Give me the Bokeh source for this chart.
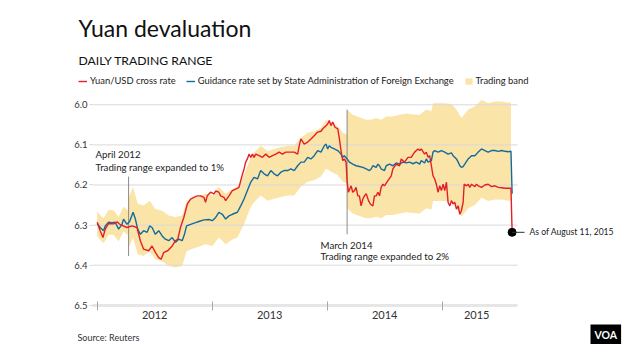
from bokeh.plotting import figure
from bokeh.models import (Range1d, FixedTicker, LinearAxis, Label, Legend, LegendItem,
                          Arrow, NumeralTickFormatter, ColumnDataSource)
from bokeh.embed import file_html
from bokeh.resources import INLINE

# ---------------- data (decimal years, CNY per USD) ----------------
red_t = [2012.000, 2012.026, 2012.050, 2012.070, 2012.099, 2012.143, 2012.175, 2012.201, 2012.259, 2012.303,
         2012.346, 2012.375, 2012.404, 2012.448, 2012.477, 2012.506, 2012.535, 2012.556, 2012.579, 2012.613,
         2012.652, 2012.681, 2012.701, 2012.724, 2012.753, 2012.783, 2012.812, 2012.840, 2012.870, 2012.899,
         2012.928, 2012.942, 2012.957, 2012.986, 2013.015, 2013.030, 2013.058, 2013.073, 2013.102, 2013.117,
         2013.146, 2013.175, 2013.204, 2013.233, 2013.248, 2013.263, 2013.277, 2013.291, 2013.306, 2013.320,
         2013.335, 2013.350, 2013.364, 2013.379, 2013.408, 2013.437, 2013.466, 2013.495, 2013.524, 2013.553,
         2013.582, 2013.611, 2013.640, 2013.669, 2013.713, 2013.743, 2013.757, 2013.771, 2013.800, 2013.830,
         2013.859, 2013.887, 2013.917, 2013.946, 2013.961, 2013.990, 2014.004, 2014.018, 2014.033, 2014.048,
         2014.068, 2014.092, 2014.106, 2014.120, 2014.135, 2014.149, 2014.164, 2014.173, 2014.184, 2014.208,
         2014.222, 2014.237, 2014.251, 2014.266, 2014.280, 2014.295, 2014.310, 2014.324, 2014.339, 2014.359,
         2014.376, 2014.397, 2014.411, 2014.426, 2014.441, 2014.455, 2014.469, 2014.484, 2014.498, 2014.528,
         2014.557, 2014.571, 2014.600, 2014.629, 2014.644, 2014.673, 2014.702, 2014.731, 2014.760, 2014.790,
         2014.804, 2014.818, 2014.847, 2014.862, 2014.877, 2014.891, 2014.906, 2014.920, 2014.935, 2014.949,
         2014.964, 2014.978, 2014.993, 2015.008, 2015.022, 2015.037, 2015.051, 2015.066, 2015.080, 2015.095,
         2015.109, 2015.124, 2015.139, 2015.153, 2015.167, 2015.182, 2015.191, 2015.211, 2015.226, 2015.240,
         2015.255, 2015.284, 2015.298, 2015.313, 2015.342, 2015.371, 2015.400, 2015.429, 2015.458, 2015.488,
         2015.517, 2015.546, 2015.575, 2015.598, 2015.608]
red_v = [6.293, 6.314, 6.331, 6.310, 6.296, 6.297, 6.292, 6.299, 6.306, 6.302,
         6.306, 6.339, 6.360, 6.364, 6.352, 6.368, 6.381, 6.385, 6.368, 6.364,
         6.352, 6.339, 6.335, 6.306, 6.281, 6.248, 6.235, 6.231, 6.227, 6.227,
         6.231, 6.243, 6.227, 6.218, 6.222, 6.215, 6.218, 6.227, 6.231, 6.239,
         6.227, 6.214, 6.210, 6.206, 6.189, 6.173, 6.160, 6.143, 6.135, 6.123,
         6.131, 6.123, 6.131, 6.123, 6.127, 6.131, 6.123, 6.131, 6.127, 6.123,
         6.118, 6.123, 6.118, 6.118, 6.118, 6.123, 6.102, 6.085, 6.098, 6.093,
         6.085, 6.077, 6.068, 6.066, 6.060, 6.052, 6.048, 6.039, 6.052, 6.043,
         6.056, 6.060, 6.085, 6.114, 6.139, 6.135, 6.143, 6.189, 6.218, 6.202,
         6.218, 6.214, 6.206, 6.227, 6.227, 6.252, 6.235, 6.227, 6.222, 6.239,
         6.248, 6.252, 6.227, 6.227, 6.218, 6.227, 6.206, 6.198, 6.202, 6.189,
         6.177, 6.160, 6.148, 6.152, 6.135, 6.143, 6.131, 6.131, 6.118, 6.110,
         6.114, 6.110, 6.123, 6.118, 6.131, 6.127, 6.152, 6.177, 6.185, 6.198,
         6.218, 6.202, 6.214, 6.198, 6.214, 6.193, 6.243, 6.252, 6.239, 6.247,
         6.243, 6.260, 6.252, 6.273, 6.264, 6.243, 6.198, 6.202, 6.198, 6.206,
         6.198, 6.204, 6.198, 6.202, 6.206, 6.200, 6.198, 6.204, 6.202, 6.206,
         6.207, 6.208, 6.208, 6.208, 6.318]

blue_t = [2012.000, 2012.026, 2012.055, 2012.070, 2012.099, 2012.128, 2012.157, 2012.186, 2012.216, 2012.229,
          2012.259, 2012.282, 2012.312, 2012.332, 2012.352, 2012.375, 2012.404, 2012.434, 2012.456, 2012.477,
          2012.506, 2012.535, 2012.565, 2012.593, 2012.622, 2012.652, 2012.681, 2012.709, 2012.739, 2012.759,
          2012.777, 2012.812, 2012.855, 2012.884, 2012.928, 2012.972, 2013.001, 2013.030, 2013.058, 2013.088,
          2013.117, 2013.146, 2013.175, 2013.219, 2013.248, 2013.277, 2013.306, 2013.335, 2013.364, 2013.394,
          2013.422, 2013.451, 2013.481, 2013.510, 2013.538, 2013.568, 2013.597, 2013.626, 2013.655, 2013.684,
          2013.713, 2013.743, 2013.771, 2013.800, 2013.830, 2013.859, 2013.887, 2013.917, 2013.946, 2013.975,
          2013.990, 2014.004, 2014.018, 2014.033, 2014.062, 2014.092, 2014.120, 2014.135, 2014.149, 2014.173,
          2014.193, 2014.222, 2014.251, 2014.280, 2014.310, 2014.339, 2014.367, 2014.382, 2014.397, 2014.426,
          2014.441, 2014.455, 2014.469, 2014.498, 2014.513, 2014.542, 2014.571, 2014.600, 2014.629, 2014.659,
          2014.688, 2014.716, 2014.746, 2014.775, 2014.804, 2014.818, 2014.847, 2014.862, 2014.877, 2014.906,
          2014.920, 2014.935, 2014.964, 2014.993, 2015.022, 2015.051, 2015.080, 2015.095, 2015.124, 2015.139,
          2015.153, 2015.167, 2015.182, 2015.196, 2015.226, 2015.255, 2015.284, 2015.313, 2015.342, 2015.371,
          2015.400, 2015.429, 2015.458, 2015.488, 2015.517, 2015.546, 2015.575, 2015.598, 2015.608]
blue_v = [6.296, 6.306, 6.314, 6.302, 6.293, 6.294, 6.293, 6.310, 6.298, 6.285,
          6.298, 6.291, 6.268, 6.285, 6.310, 6.323, 6.314, 6.318, 6.302, 6.306,
          6.323, 6.314, 6.327, 6.335, 6.339, 6.331, 6.343, 6.335, 6.339, 6.323,
          6.302, 6.298, 6.294, 6.291, 6.287, 6.286, 6.289, 6.281, 6.268, 6.273,
          6.285, 6.277, 6.273, 6.268, 6.252, 6.235, 6.214, 6.193, 6.181, 6.185,
          6.164, 6.172, 6.177, 6.164, 6.172, 6.177, 6.168, 6.164, 6.164, 6.160,
          6.164, 6.152, 6.143, 6.143, 6.131, 6.135, 6.127, 6.114, 6.118, 6.102,
          6.098, 6.110, 6.102, 6.106, 6.110, 6.114, 6.123, 6.131, 6.127, 6.135,
          6.143, 6.148, 6.152, 6.154, 6.156, 6.160, 6.164, 6.160, 6.152, 6.156,
          6.148, 6.152, 6.160, 6.164, 6.152, 6.148, 6.152, 6.145, 6.148, 6.143,
          6.145, 6.143, 6.147, 6.143, 6.148, 6.139, 6.145, 6.135, 6.143, 6.139,
          6.118, 6.114, 6.118, 6.114, 6.118, 6.123, 6.120, 6.127, 6.135, 6.143,
          6.152, 6.156, 6.154, 6.148, 6.135, 6.127, 6.127, 6.118, 6.110, 6.114,
          6.118, 6.114, 6.114, 6.116, 6.114, 6.116, 6.117, 6.116, 6.222]

band_t = [2012.000, 2012.026, 2012.055, 2012.099, 2012.143, 2012.186, 2012.229, 2012.270, 2012.271, 2012.312,
          2012.352, 2012.404, 2012.456, 2012.506, 2012.565, 2012.622, 2012.681, 2012.739, 2012.777, 2012.829,
          2012.884, 2012.942, 2013.001, 2013.058, 2013.117, 2013.175, 2013.219, 2013.248, 2013.277, 2013.306,
          2013.335, 2013.364, 2013.422, 2013.481, 2013.538, 2013.597, 2013.655, 2013.713, 2013.771, 2013.830,
          2013.887, 2013.946, 2013.990, 2014.033, 2014.092, 2014.135, 2014.172, 2014.173, 2014.222, 2014.280,
          2014.339, 2014.382, 2014.426, 2014.469, 2014.513, 2014.571, 2014.629, 2014.688, 2014.746, 2014.804,
          2014.862, 2014.906, 2014.920, 2014.964, 2015.022, 2015.080, 2015.124, 2015.167, 2015.226, 2015.284,
          2015.342, 2015.400, 2015.458, 2015.517, 2015.575, 2015.598]
band_top = [6.265, 6.275, 6.283, 6.262, 6.263, 6.279, 6.254, 6.264, 6.232, 6.205,
            6.247, 6.251, 6.239, 6.260, 6.264, 6.276, 6.280, 6.276, 6.239, 6.233,
            6.228, 6.222, 6.226, 6.205, 6.222, 6.210, 6.205, 6.190, 6.173, 6.152,
            6.131, 6.119, 6.102, 6.115, 6.110, 6.106, 6.102, 6.102, 6.082, 6.070,
            6.066, 6.057, 6.037, 6.045, 6.053, 6.070, 6.074, 6.012, 6.025, 6.031,
            6.037, 6.037, 6.033, 6.037, 6.029, 6.029, 6.025, 6.022, 6.024, 6.025,
            6.012, 6.016, 5.996, 5.996, 5.996, 5.998, 6.012, 6.033, 6.012, 6.004,
            5.988, 5.996, 5.992, 5.992, 5.995, 5.994]
band_bot = [6.327, 6.337, 6.345, 6.324, 6.325, 6.341, 6.316, 6.326, 6.358, 6.331,
            6.373, 6.377, 6.365, 6.386, 6.390, 6.402, 6.406, 6.402, 6.365, 6.359,
            6.354, 6.348, 6.352, 6.331, 6.348, 6.336, 6.331, 6.314, 6.297, 6.276,
            6.255, 6.243, 6.226, 6.239, 6.234, 6.230, 6.226, 6.226, 6.204, 6.192,
            6.188, 6.179, 6.159, 6.167, 6.175, 6.192, 6.196, 6.258, 6.271, 6.277,
            6.283, 6.283, 6.279, 6.283, 6.275, 6.275, 6.271, 6.268, 6.270, 6.271,
            6.258, 6.262, 6.240, 6.240, 6.240, 6.242, 6.258, 6.279, 6.258, 6.250,
            6.232, 6.240, 6.236, 6.236, 6.239, 6.238]

# band-widening events (April 16 2012, March 17 2014)
event_t = [2012.273, 2014.173]
event_y0 = [6.179, 6.012]
event_y1 = [6.377, 6.323]

y_ticks = [6.0, 6.1, 6.2, 6.3, 6.4, 6.5]
year_starts = [2012, 2013, 2014, 2015]
year_label_pos = [2012.5, 2013.5, 2014.5, 2015.3]
year_labels = ["2012", "2013", "2014", "2015"]

# ---------------- styling ----------------
FONT = "Lato"
RED = "#e31f26"
BLUE = "#126b9f"
BAND = "#fbe4a8"
GRID = "#d9d9d9"
TXT = "#222222"
SMALL = "9.7px"

W, H = 624, 344
X0, X1 = 2011.959, 2015.655          # extent of the chart area along x
p = figure(width=W, height=H, output_backend="svg", toolbar_location=None,
           x_range=Range1d(2011.1591, 2016.5852), y_range=Range1d(6.59776, 5.7399),
           x_axis_type=None, y_axis_type=None,
           min_border=0, outline_line_color=None,
           background_fill_color="white", border_fill_color="white")

# band
band_src = ColumnDataSource(dict(t=band_t, lo=band_top, hi=band_bot))
r_band = p.varea(x="t", y1="lo", y2="hi", source=band_src, fill_color=BAND)
r_band.level = "image"

# horizontal grid lines at the y ticks, across the chart area only
g = p.segment(x0=X0, x1=X1, y0=y_ticks[:-1], y1=y_ticks[:-1], line_color=GRID, line_width=1)
g.level = "underlay"

# event lines
p.segment(x0=event_t, x1=event_t, y0=event_y0, y1=event_y1, line_color="#8a8a8a", line_width=1)

r_blue = p.line(blue_t, blue_v, line_color=BLUE, line_width=1.4)
r_red = p.line(red_t, red_v, line_color=RED, line_width=1.4)
p.scatter([red_t[-1]], [red_v[-1]], size=8, color="black")

# y axis
ya = LinearAxis(ticker=FixedTicker(ticks=y_ticks), formatter=NumeralTickFormatter(format="0.0"),
                fixed_location=X0, axis_line_color=None, major_tick_line_color=GRID,
                major_tick_in=0, major_tick_out=3, minor_tick_line_color=None,
                major_label_standoff=2, major_label_text_font=FONT,
                major_label_text_font_size="9.5px", major_label_text_color="#333333")
p.add_layout(ya, "left")

# x axis: year separators as minor ticks, year names centred as major labels
xa = LinearAxis(ticker=FixedTicker(ticks=year_label_pos, minor_ticks=year_starts),
                major_label_overrides={pos: lab for pos, lab in zip(year_label_pos, year_labels)},
                fixed_location=6.5, bounds=(X0, X1),
                axis_line_color="#e6e6e6", axis_line_width=3,
                major_tick_line_color=None, major_tick_in=0, major_tick_out=0,
                minor_tick_line_color="#a8a8a8", minor_tick_in=4, minor_tick_out=5,
                major_label_standoff=1, major_label_text_font=FONT,
                major_label_text_font_size="11px", major_label_text_color="#333333")
p.add_layout(xa, "below")

# legend
legend = Legend(items=[LegendItem(label="Yuan/USD cross rate", renderers=[r_red]),
                       LegendItem(label="Guidance rate set by State Administration of Foreign Exchange", renderers=[r_blue]),
                       LegendItem(label="Trading band", renderers=[r_band])],
                orientation="horizontal", location=(78, 258), border_line_color=None,
                background_fill_alpha=0, padding=0, margin=0, spacing=10,
                glyph_width=9, glyph_height=8, label_standoff=3, label_height=8,
                label_text_font=FONT, label_text_font_size="9.4px", label_text_color=TXT)
p.add_layout(legend)

def lab(text, x, y, size, xu="screen", yu="screen", color=TXT, **kw):
    p.add_layout(Label(x=x, y=y, x_units=xu, y_units=yu, text=text, text_font=FONT,
                       text_font_size=size, text_color=color, text_baseline="middle", **kw))

lab("Yuan devaluation", 78, 317, "23px", color="#111111")
lab("DAILY TRADING RANGE", 78, 284, "12.2px", color="#111111")
lab("Source: Reuters", 77, 7, "9px", color="#333333")
lab("VOA", 590, 10, "10.5px", color="white", text_font_style="bold",
    background_fill_color="black", padding=4)

lab("April 2012", 2011.985, 6.1239, SMALL, xu="data", yu="data")
lab("Trading range expanded to 1%", 2011.985, 6.1556, SMALL, xu="data", yu="data")
lab("March 2014", 2013.942, 6.3484, SMALL, xu="data", yu="data")
lab("Trading range expanded to 2%", 2013.942, 6.3783, SMALL, xu="data", yu="data")
lab("As of August 11, 2015", 2015.759, red_v[-1], "8.6px", xu="data", yu="data")

p.add_layout(Arrow(end=None, x_start=red_t[-1], y_start=red_v[-1], x_end=2015.716, y_end=red_v[-1],
                   line_color="#333333", line_width=1))

open("out.html", "w").write(file_html(p, INLINE))
